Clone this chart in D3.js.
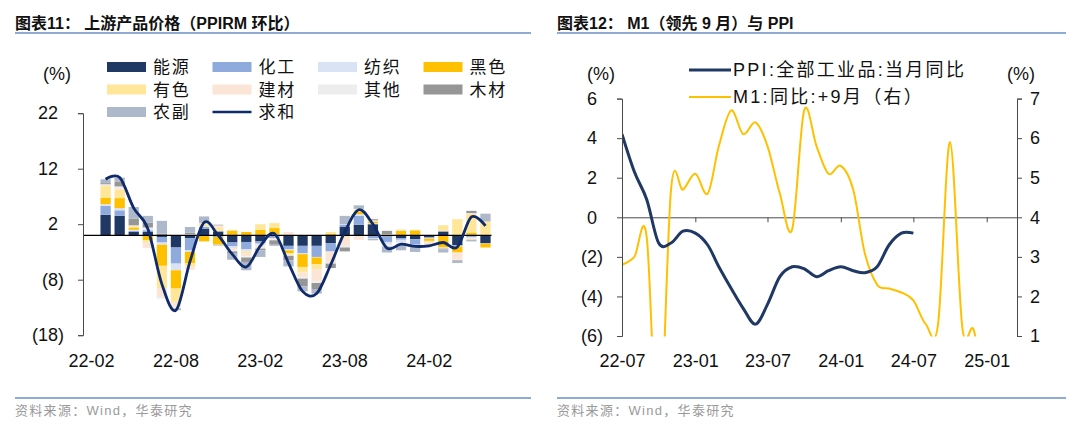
<!DOCTYPE html>
<html>
<head>
<meta charset="utf-8">
<script src="https://cdn.jsdelivr.net/npm/d3@7"></script>
<style>
  body { margin: 0; background: #fff; }
  svg { font-family: "Liberation Sans", "Noto Sans CJK SC", sans-serif; }
</style>
</head>
<body>
<div id="wrap"></div>
<script>
// 图表11：PPIRM 环比分项 (%)，22-03 至 24-06
const months = ["22-03","22-04","22-05","22-06","22-07","22-08","22-09","22-10","22-11","22-12",
  "23-01","23-02","23-03","23-04","23-05","23-06","23-07","23-08","23-09","23-10","23-11","23-12",
  "24-01","24-02","24-03","24-04","24-05","24-06"];
const energy = [3.7, 3.5, 0.6, 0.6, -0.3, -2.2, -0.5, 1.2, 0.7, -1.3, -1.2, -1.1, -0.2, -1.9, -1.9, -1.9, -1.4, 1.5, 1.9, 2.0, -0.2, -0.5, -0.7, -0.3, 0.7, -1.8, 0.1, -1.4];
const chem = [1.6, 1.0, 0.2, 0.3, -1.0, -2.9, -2.2, 0.3, -0.3, -0.7, -1.3, -0.4, -0.3, -0.6, -1.3, -2.0, -1.5, 0.4, 1.6, -0.5, -1.0, -0.3, -1.0, -0.2, -0.1, -0.1, -0.3, -0.1];
const textile = [0.3, 0.4, 0.2, 0.2, -0.4, -1.2, -0.3, 0.1, 0.1, -0.3, -0.4, -0.2, 0.2, -0.2, -0.2, -0.1, -0.1, 0.1, 0.3, 0.2, -0.4, -0.5, -0.2, -0.1, 0.1, -0.1, -0.2, 0.0];
const ferrous = [1.2, 1.8, 0.4, -0.9, -3.8, -3.3, -2.0, -1.1, -1.4, 0.8, 0.6, 1.0, 1.1, -0.5, -2.3, -1.2, 0.3, -0.1, 0.5, 0.2, 0.1, 0.8, 0.9, -0.4, -2.1, -1.1, 0.4, -0.7];
const nonferrous = [2.1, 1.5, 0.3, -0.4, -4.0, -2.4, -0.6, 0.4, 0.6, 0.2, -0.3, 1.0, 0.9, -0.3, -1.0, -0.9, 0.3, -0.2, 0.3, 0.2, 0.1, 0.1, 0.1, -0.3, 1.0, 2.9, 3.4, 2.5];
const building = [0.2, 0.3, -0.2, -1.0, -1.6, -1.0, -0.6, 0.2, 0.4, -0.4, -0.6, -0.4, -0.2, 0.6, -0.9, -2.2, -2.0, -1.6, -0.8, 0.1, -0.2, 0.2, -0.2, -0.3, -0.1, -1.3, -0.3, 0.0];
const other = [0.1, 0.3, 0.1, 0.3, -0.3, -0.2, 0.2, 0.1, -0.1, -0.2, -0.2, -0.3, -0.2, -0.2, -0.2, -0.3, -0.1, -0.3, 0.2, -0.1, -0.2, -0.3, -0.1, -0.1, -0.1, -0.1, 0.1, 0.0];
const wood = [0.2, 0.9, 1.2, 0.9, 0.3, -0.2, 0.3, 0.2, 0.1, -0.3, -0.8, -0.3, -0.8, -0.8, -1.4, -1.2, -0.8, -0.7, 0.1, 0.2, 0.6, -0.1, -0.1, -0.1, -0.1, -0.1, 0.4, 0.0];
const agri = [0.7, 0.7, 2.1, 1.2, 2.3, -0.1, 1.0, 0.9, -0.1, -1.2, -1.5, -1.2, -0.2, -1.1, -0.9, -0.7, 0.0, 1.5, 0.5, -0.3, -1.1, -1.0, -0.7, -0.1, -0.6, -0.4, -0.3, 1.4];
const leftTicks = ["22-02","22-08","23-02","23-08","24-02"];
const leftYTicks = [-18, -8, 2, 12, 22];

// 图表12：PPI 当月同比 与 M1 同比(+9月)
const ppiMonths = ["2022-07","2022-08","2022-09","2022-10","2022-11","2022-12","2023-01","2023-02","2023-03",
  "2023-04","2023-05","2023-06","2023-07","2023-08","2023-09","2023-10","2023-11","2023-12","2024-01",
  "2024-02","2024-03","2024-04","2024-05","2024-06","2024-07"];
const ppi = [4.2, 2.3, 0.9, -1.3, -1.3, -0.7, -0.8, -1.4, -2.5, -3.6, -4.6, -5.4, -4.4, -3.0, -2.5, -2.6, -3.0, -2.7, -2.5, -2.7, -2.8, -2.5, -1.4, -0.8, -0.8];
const m1Months = ["2022-07","2022-08","2022-09","2022-10","2022-11","2022-12","2023-01","2023-02","2023-03",
  "2023-04","2023-05","2023-06","2023-07","2023-08","2023-09","2023-10","2023-11","2023-12","2024-01",
  "2024-02","2024-03","2024-04","2024-05","2024-06","2024-07","2024-08","2024-09","2024-10","2024-11",
  "2024-12","2025-01"];
const m1 = [2.8, 3.0, 3.5, -1.9, 4.7, 4.7, 5.1, 4.6, 5.8, 6.7, 6.1, 6.4, 5.8, 4.6, 3.7, 6.7, 5.8, 5.1, 5.3, 4.7, 3.1, 2.3, 2.2, 2.1, 1.9, 1.3, 1.3, 5.9, 1.2, 1.1, -1.4];
const rightYTicksL = [-6, -4, -2, 0, 2, 4, 6];
const rightYTicksR = [1, 2, 3, 4, 5, 6, 7];

const width = 1080;
const height = 424;
const svg = d3.select("#wrap")
  .append("svg")
  .attr("width", width)
  .attr("height", height);

const axisColor = "#4a4a4a";
// 负数用括号，正数后面留一个透明括号的位置
const fmt = d => d < 0 ? "(" + (-d) + ")" : String(d);
function styleAxis(g, pad) {
  g.select(".domain").attr("stroke", axisColor);
  g.selectAll(".tick line").attr("stroke", axisColor);
  g.selectAll(".tick text")
    .attr("font-size", 18)
    .attr("fill", "#111")
    .attr("font-family", '"Liberation Sans", sans-serif');
  if (pad) {
    g.selectAll(".tick text").filter(d => d >= 0)
      .append("tspan").attr("fill-opacity", 0).text(")");
  }
}

// 标题、分隔线、资料来源
function frame(x0, x1, title) {
  svg.append("text")
    .attr("x", x0).attr("y", 29)
    .attr("font-size", 16).attr("font-weight", "bold").attr("fill", "#111")
    .text(title);
  svg.append("line")
    .attr("x1", x0).attr("x2", x1).attr("y1", 33).attr("y2", 33)
    .attr("stroke", "#6a8fc4").attr("stroke-width", 1.5);
  svg.append("line")
    .attr("x1", x0).attr("x2", x1).attr("y1", 398).attr("y2", 398)
    .attr("stroke", "#6a8fc4").attr("stroke-width", 1.5);
  svg.append("text")
    .attr("x", x0).attr("y", 415)
    .attr("font-size", 13).attr("fill", "#9a9a9a")
    .attr("letter-spacing", 1.3)
    .text("资料来源：Wind，华泰研究");
}
frame(15, 531, "图表11： 上游产品价格（PPIRM 环比）");
frame(557, 1066, "图表12： M1（领先 9 月）与 PPI");

// ---------- 图表11 ----------
const keys = ["能源","化工","纺织","黑色","有色","建材","其他","木材","农副"];
const series = [energy, chem, textile, ferrous, nonferrous, building, other, wood, agri];
const colors = ["#203864","#8faadc","#dae3f3","#ffc000","#ffe699","#fbe5d6","#ededed","#969696","#adb9ca"];
const sumColor = "#0f2b6b";

const rows = months.map((m, i) => {
  const r = { month: m };
  keys.forEach((k, j) => { r[k] = series[j][i]; });
  r.total = d3.sum(series, s => s[i]);
  return r;
});
const stacked = d3.stack().keys(keys).offset(d3.stackOffsetDiverging)(rows);

const xL = d3.scaleBand()
  .domain(["22-02"].concat(months))
  .range([84.5, 492.5])
  .paddingInner(0.27)
  .paddingOuter(0.135);
const yL = d3.scaleLinear().domain([-18, 22]).range([335.2, 113.2]);

svg.append("g")
  .selectAll("g")
  .data(stacked)
  .join("g")
  .attr("fill", (d, i) => colors[i])
  .selectAll("rect")
  .data(d => d)
  .join("rect")
  .attr("x", d => xL(d.data.month))
  .attr("width", xL.bandwidth())
  .attr("y", d => yL(Math.max(d[0], d[1])))
  .attr("height", d => Math.abs(yL(d[0]) - yL(d[1])));

// 零线
svg.append("line")
  .attr("x1", 83).attr("x2", xL.range()[1] - 1)
  .attr("y1", yL(0)).attr("y2", yL(0))
  .attr("stroke", "#000").attr("stroke-width", 1.3);

// 求和
svg.append("path")
  .datum(rows)
  .attr("fill", "none")
  .attr("stroke", sumColor)
  .attr("stroke-width", 2.8)
  .attr("d", d3.line()
    .x(d => xL(d.month) + xL.bandwidth() / 2)
    .y(d => yL(d.total))
    .curve(d3.curveCardinal.tension(0)));

const gyL = svg.append("g")
  .attr("transform", "translate(83,0)")
  .call(d3.axisLeft(yL).tickValues(leftYTicks).tickSize(5).tickPadding(14).tickFormat(fmt));
styleAxis(gyL, true);

const gxL = svg.append("g")
  .attr("transform", "translate(0,354)")
  .call(d3.axisBottom(xL).tickValues(leftTicks).tickSize(0).tickPadding(0));
gxL.select(".domain").remove();
styleAxis(gxL, false);

svg.append("text")
  .attr("x", 43).attr("y", 74).attr("dy", "0.35em")
  .attr("font-size", 18).attr("fill", "#111")
  .text("(%)");

// 图例
const legL = keys.concat(["求和"]);
legL.forEach((k, i) => {
  const col = i % 4, row = Math.floor(i / 4);
  const lx = 107 + col * 105.5, ly = 67 + row * 22.5;
  if (k === "求和") {
    svg.append("line")
      .attr("x1", lx).attr("x2", lx + 39).attr("y1", ly).attr("y2", ly)
      .attr("stroke", sumColor).attr("stroke-width", 2.5);
  } else {
    svg.append("rect")
      .attr("x", lx).attr("y", ly - 5).attr("width", 39).attr("height", 10)
      .attr("fill", colors[i]);
  }
  svg.append("text")
    .attr("x", lx + 46).attr("y", ly).attr("dy", "0.36em")
    .attr("font-size", 17).attr("letter-spacing", 1.8).attr("fill", "#111")
    .text(k);
});

// ---------- 图表12 ----------
const parse = d3.timeParse("%Y-%m");
const xR = d3.scaleTime()
  .domain([parse("2022-07"), new Date(2025, 2, 18)])
  .range([622, 1017]);
const yRL = d3.scaleLinear().domain([-6, 6]).range([336, 98.6]);
const yRR = d3.scaleLinear().domain([1, 7]).range([336, 98.6]);

svg.append("clipPath").attr("id", "clipR")
  .append("rect").attr("x", 622).attr("y", 90).attr("width", 395).attr("height", 246.5);

const gMid = svg.append("g")
  .attr("transform", `translate(0,${yRL(0)})`)
  .call(d3.axisBottom(xR).ticks(d3.timeMonth.every(6)).tickSize(5).tickSizeOuter(0).tickFormat(""));
styleAxis(gMid, false);

const plotR = svg.append("g").attr("clip-path", "url(#clipR)");
plotR.append("path")
  .datum(m1Months.map((m, i) => ({ date: parse(m), v: m1[i] })))
  .attr("fill", "none")
  .attr("stroke", "#ffc000")
  .attr("stroke-width", 2)
  .attr("d", d3.line().x(d => xR(d.date)).y(d => yRR(d.v)).curve(d3.curveCardinal.tension(0)));
plotR.append("path")
  .datum(ppiMonths.map((m, i) => ({ date: parse(m), v: ppi[i] })))
  .attr("fill", "none")
  .attr("stroke", "#203864")
  .attr("stroke-width", 3)
  .attr("d", d3.line().x(d => xR(d.date)).y(d => yRL(d.v)).curve(d3.curveCardinal.tension(0)));

const gyRL = svg.append("g")
  .attr("transform", "translate(622,0)")
  .call(d3.axisLeft(yRL).tickValues(rightYTicksL).tickSize(5).tickPadding(14).tickFormat(fmt));
styleAxis(gyRL, true);
const gyRR = svg.append("g")
  .attr("transform", "translate(1017,0)")
  .call(d3.axisRight(yRR).tickValues(rightYTicksR).tickSize(5).tickPadding(8).tickFormat(d3.format("d")));
styleAxis(gyRR, false);

const gxR = svg.append("g")
  .attr("transform", "translate(0,354)")
  .call(d3.axisBottom(xR).ticks(d3.timeMonth.every(6)).tickSize(0).tickPadding(0).tickFormat(d3.timeFormat("%y-%m")));
gxR.select(".domain").remove();
styleAxis(gxR, false);

svg.append("text")
  .attr("x", 587).attr("y", 74).attr("dy", "0.35em")
  .attr("font-size", 18).attr("fill", "#111").text("(%)");
svg.append("text")
  .attr("x", 1007).attr("y", 74).attr("dy", "0.35em")
  .attr("font-size", 18).attr("fill", "#111").text("(%)");

const legR = [
  { name: "PPI:全部工业品:当月同比", color: "#203864", w: 3 },
  { name: "M1:同比:+9月（右）", color: "#ffc000", w: 2 }
];
legR.forEach((d, i) => {
  const ly = 70 + i * 27;
  svg.append("line")
    .attr("x1", 689).attr("x2", 731).attr("y1", ly).attr("y2", ly)
    .attr("stroke", d.color).attr("stroke-width", d.w);
  svg.append("text")
    .attr("x", 733).attr("y", ly).attr("dy", "0.36em")
    .attr("font-size", 18).attr("letter-spacing", 2.3).attr("fill", "#111")
    .text(d.name);
});
</script>
</body>
</html>
